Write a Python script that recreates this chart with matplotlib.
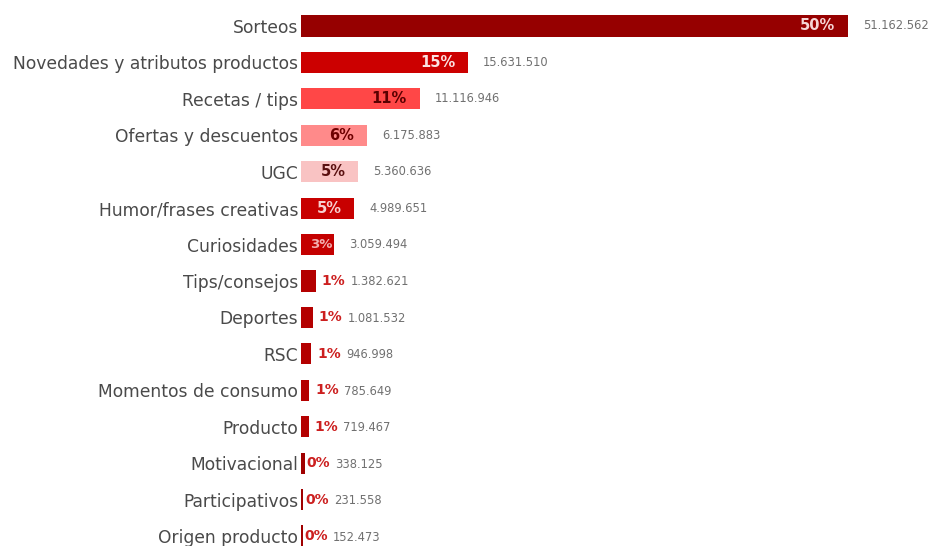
import matplotlib
matplotlib.use("Agg")
import matplotlib.pyplot as plt

categories = ["Sorteos", "Novedades y atributos productos", "Recetas / tips",
              "Ofertas y descuentos", "UGC", "Humor/frases creativas", "Curiosidades",
              "Tips/consejos", "Deportes", "RSC", "Momentos de consumo", "Producto",
              "Motivacional", "Participativos", "Origen producto"]
values = [51162562, 15631510, 11116946, 6175883, 5360636, 4989651, 3059494,
          1382621, 1081532, 946998, 785649, 719467, 338125, 231558, 152473]
pct_labels = ["50%", "15%", "11%", "6%", "5%", "5%", "3%",
              "1%", "1%", "1%", "1%", "1%", "0%", "0%", "0%"]
value_labels = ["51.162.562", "15.631.510", "11.116.946", "6.175.883", "5.360.636",
                "4.989.651", "3.059.494", "1.382.621", "1.081.532", "946.998",
                "785.649", "719.467", "338.125", "231.558", "152.473"]

bar_colors = ["#960000", "#CC0000", "#FF4747", "#FF8A8A", "#F9C3C3", "#C80000", "#C40000",
              "#B40000", "#B40000", "#B40000", "#B40000", "#B40000", "#A00000", "#A00000", "#A00000"]
pct_colors = ["#F6D6D6", "#FBE3E3", "#5A0000", "#6E0000", "#5A1010", "#F8D0D0", "#F2B0B0",
              "#CC1F1F", "#CC1F1F", "#CC1F1F", "#CC1F1F", "#CC1F1F", "#CC1F1F", "#CC1F1F", "#CC1F1F"]

W, H = 936, 546
fig = plt.figure(figsize=(W / 100, H / 100), dpi=100)
ax_left, ax_right = 301, 936
ax = fig.add_axes([ax_left / W, 0, (ax_right - ax_left) / W, 1])
ax.set_facecolor("white")

n = len(categories)
pos = list(range(n))
ax.barh(pos, values, height=0.58, color=bar_colors)

vmax = max(values)
ax.set_xlim(0, vmax * (ax_right - ax_left) / 547)
ax.set_ylim(14 + 10 / 36.43, -26 / 36.43)

ax.set_yticks(pos)
ax.set_yticklabels(categories, fontsize=12.3, color="#4a4a4a", family="DejaVu Sans")
ax.tick_params(axis="y", length=0, pad=2)
ax.set_xticks([])
for s in ax.spines.values():
    s.set_visible(False)

fig.canvas.draw()
renderer = fig.canvas.get_renderer()
px_per_unit = (ax_right - ax_left) / ax.get_xlim()[1]

num_fs = 8.3
for i, (v, p, lab) in enumerate(zip(values, pct_labels, value_labels)):
    bar_px = v * px_per_unit
    if bar_px > 45:
        ax.annotate(p, xy=(v, i), xytext=(-13, 0), textcoords="offset pixels",
                    ha="right", va="center", fontsize=10.5, fontweight="bold",
                    color=pct_colors[i])
        ax.annotate(lab, xy=(v, i), xytext=(15, 0), textcoords="offset pixels",
                    ha="left", va="center", fontsize=num_fs, color="#707070")
    elif bar_px > 25:
        ax.annotate(p, xy=(v, i), xytext=(-1, 0), textcoords="offset pixels",
                    ha="right", va="center", fontsize=9.5, fontweight="bold",
                    color=pct_colors[i])
        ax.annotate(lab, xy=(v, i), xytext=(15, 0), textcoords="offset pixels",
                    ha="left", va="center", fontsize=num_fs, color="#707070")
    else:
        gap = 6 if bar_px > 5 else 2
        t = ax.annotate(p, xy=(v, i), xytext=(gap, 0), textcoords="offset pixels",
                        ha="left", va="center", fontsize=10, fontweight="bold",
                        color=pct_colors[i])
        bb = t.get_window_extent(renderer)
        off = gap + bb.width + 5
        ax.annotate(lab, xy=(v, i), xytext=(off, -1), textcoords="offset pixels",
                    ha="left", va="center", fontsize=num_fs, color="#707070")

fig.savefig("out.png", dpi=100, facecolor="white")
